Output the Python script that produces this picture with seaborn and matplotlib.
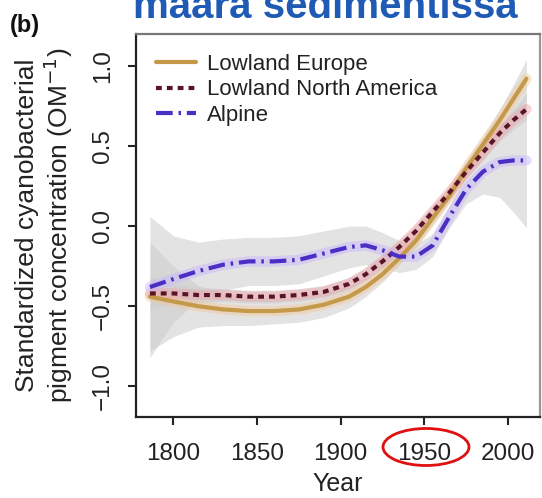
import matplotlib
matplotlib.use("Agg")
import matplotlib.pyplot as plt
from matplotlib.patches import Ellipse
import seaborn as sns
import pandas as pd

# values
years = [1786, 1800, 1815, 1830, 1845, 1860, 1875, 1890, 1905, 1915,
         1925, 1935, 1945, 1955, 1965, 1975, 1985, 1995, 2003, 2011]

europe = [-0.44, -0.47, -0.50, -0.52, -0.53, -0.53, -0.52, -0.49, -0.44, -0.38,
          -0.30, -0.20, -0.09, 0.05, 0.19, 0.36, 0.51, 0.66, 0.79, 0.92]
europe_hw = [0.34, 0.22, 0.13, 0.10, 0.09, 0.08, 0.08, 0.08, 0.07, 0.06,
             0.05, 0.04, 0.04, 0.04, 0.04, 0.05, 0.05, 0.07, 0.09, 0.12]

north_america = [-0.42, -0.42, -0.43, -0.43, -0.44, -0.44, -0.43, -0.41, -0.36, -0.30,
                 -0.22, -0.13, -0.03, 0.09, 0.21, 0.34, 0.46, 0.58, 0.66, 0.73]
north_america_hw = [0.10, 0.06, 0.05, 0.04, 0.04, 0.04, 0.04, 0.04, 0.04, 0.04,
                    0.04, 0.04, 0.04, 0.04, 0.04, 0.04, 0.05, 0.05, 0.06, 0.07]

alpine = [-0.38, -0.33, -0.28, -0.24, -0.22, -0.22, -0.21, -0.17, -0.13, -0.12,
          -0.15, -0.19, -0.19, -0.12, 0.06, 0.23, 0.34, 0.40, 0.41, 0.41]
alpine_hw = [0.44, 0.27, 0.18, 0.16, 0.15, 0.15, 0.15, 0.14, 0.13, 0.12,
             0.11, 0.10, 0.08, 0.07, 0.07, 0.09, 0.14, 0.22, 0.32, 0.42]

labels = ["Lowland Europe", "Lowland North America", "Alpine"]
colors = {"Lowland Europe": "#c49a4a",
          "Lowland North America": "#5a1428",
          "Alpine": "#4b2fc4"}
halo = {"Lowland Europe": "#f3c896",
        "Lowland North America": "#f2a0a6",
        "Alpine": "#c4b4ff"}
dashes = {"Lowland Europe": "",
          "Lowland North America": (1.4, 1.2),
          "Alpine": (4.0, 1.4, 0.6, 1.4)}

series = {"Lowland Europe": (europe, europe_hw),
          "Lowland North America": (north_america, north_america_hw),
          "Alpine": (alpine, alpine_hw)}

rows = []
for name in labels:
    vals, hw = series[name]
    for y, v, h in zip(years, vals, hw):
        rows.append({"Year": y, "value": v, "lo": v - h, "hi": v + h, "site": name})
df = pd.DataFrame(rows)

sns.set_style("ticks")
plt.rcParams["font.family"] = ["Liberation Sans", "DejaVu Sans"]

fig = plt.figure(figsize=(5.42, 4.98), dpi=100)
ax = fig.add_axes([0.251, 0.163, 0.745, 0.769])

# grey confidence bands
for name in ["Alpine", "Lowland Europe", "Lowland North America"]:
    d = df[df.site == name]
    ax.fill_between(d.Year, d.lo, d.hi, color="#cdcdcd", alpha=0.55, lw=0)

# soft coloured halo under each curve
sns.lineplot(data=df, x="Year", y="value", hue="site", palette=halo,
             linewidth=7.5, alpha=0.45, legend=False, ax=ax)

sns.lineplot(data=df, x="Year", y="value", hue="site", style="site",
             hue_order=labels, style_order=labels, palette=colors,
             dashes=dashes, linewidth=3.0, ax=ax)

ax.set_xlim(1777.7, 2019)
ax.set_ylim(-1.19, 1.20)
ax.set_xticks([1800, 1850, 1900, 1950, 2000])
ax.set_yticks([-1.0, -0.5, 0.0, 0.5, 1.0])
ax.set_yticklabels(["\u22121.0", "\u22120.5", "0.0", "0.5", "1.0"],
                   rotation=90, va="center")
ax.tick_params(axis="both", labelsize=17.5, length=6, width=1.5, color="#222222",
               labelcolor="#222222")
ax.tick_params(axis="x", pad=13)
ax.tick_params(axis="y", pad=10)
for s in ax.spines.values():
    s.set_linewidth(1.6)
    s.set_color("#222222")
ax.spines["top"].set_color("#777777")
ax.spines["right"].set_color("#999999")

ax.set_xlabel("Year", fontsize=18, color="#222222", labelpad=5)
ax.set_ylabel("Standardized cyanobacterial\npigment concentration (OM$^{-1}$)",
              fontsize=19, color="#222222", linespacing=1.1, labelpad=12)

leg = ax.legend(loc="upper left", frameon=False, fontsize=16,
                handlelength=1.8, handletextpad=0.5, labelspacing=0.2,
                borderaxespad=0.6, borderpad=0.3)
for t in leg.get_texts():
    t.set_color("#222222")

fig.text(0.245, 0.964, "määrä sedimentissä", color="#1f5bb5",
         fontsize=29, fontweight="bold", va="baseline", ha="left")
fig.text(0.018, 0.935, "(b)", fontsize=17, fontweight="bold", color="#111111")

ring = Ellipse((426 / 542, 1 - 447 / 498), 86 / 542, 37 / 498,
               transform=fig.transFigure, fill=False, edgecolor="#e01010", lw=2)
fig.add_artist(ring)

fig.savefig("out.png", dpi=100)
